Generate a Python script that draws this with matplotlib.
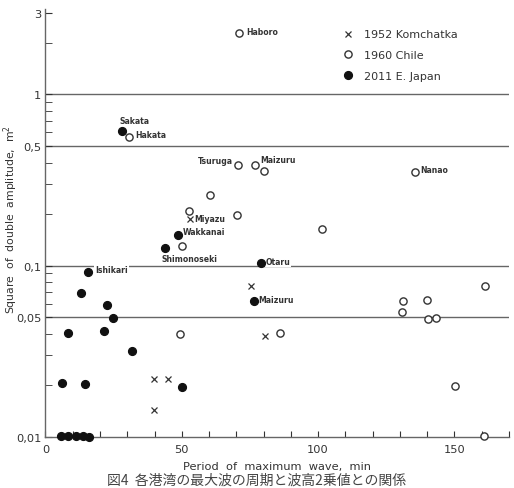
import matplotlib
matplotlib.use("Agg")
import matplotlib.pyplot as plt
from matplotlib.ticker import FixedLocator, NullFormatter

plt.rcParams['font.family'] = ['DejaVu Sans', 'Noto Sans CJK JP']

# 1952 Kamchatka (x markers)
kam_x = [52.9, 75.5, 80.4, 39.9, 45.0, 39.9]
kam_y = [0.186, 0.076, 0.0385, 0.0217, 0.0217, 0.0144]

# 1960 Chile (open circles)
chile_x = [71.0, 30.7, 70.6, 76.7, 80.0, 135.6, 60.5, 101.4, 52.7, 70.4, 49.9,
           85.9, 131.1, 130.7, 140.1, 140.5, 143.4, 161.1, 150.3, 160.7, 49.4]
chile_y = [2.29, 0.566, 0.385, 0.385, 0.357, 0.35, 0.257, 0.164, 0.208, 0.198, 0.131,
           0.0404, 0.062, 0.0538, 0.0633, 0.0488, 0.0497, 0.0764, 0.0198, 0.0101, 0.0397]

# 2011 E. Japan (filled circles)
japan_x = [28.0, 48.6, 43.7, 15.7, 78.9, 76.4, 12.9, 8.2, 6.0, 14.5, 22.4, 24.7,
           21.5, 31.9, 49.9, 5.6, 8.1, 11.1, 13.6, 15.9]
japan_y = [0.608, 0.151, 0.127, 0.0923, 0.103, 0.062, 0.0692, 0.0404, 0.0205, 0.0203,
           0.0589, 0.0492, 0.0417, 0.0317, 0.0196, 0.0101, 0.0101, 0.0101, 0.0101, 0.0100]

# port names: (label, x, y, dx px, dy px, ha, va)
ports = [
    ("Haboro", 71.0, 2.29, 7, 1, "left", "center"),
    ("Sakata", 28.0, 0.608, -2, 6, "left", "bottom"),
    ("Hakata", 30.7, 0.566, 6, 2, "left", "center"),
    ("Tsuruga", 70.6, 0.385, -5, 5, "right", "center"),
    ("Maizuru", 76.7, 0.385, 6, 6, "left", "center"),
    ("Nanao", 135.6, 0.35, 5, 3, "left", "center"),
    ("Miyazu", 52.9, 0.186, 5, 1, "left", "center"),
    ("Wakkanai", 48.6, 0.151, 5, 3, "left", "center"),
    ("Shimonoseki", 43.7, 0.127, -3, -6, "left", "top"),
    ("Ishikari", 15.7, 0.0923, 7, 2, "left", "center"),
    ("Otaru", 78.9, 0.103, 5, 2, "left", "center"),
    ("Maizuru", 76.4, 0.062, 5, 2, "left", "center"),
]

ref_lines = [1, 0.5, 0.1, 0.05]
y_major = [0.01, 0.05, 0.1, 0.5, 1, 3]
y_major_labels = ["0,01", "0,05", "0,1", "0,5", "1", "3"]
y_minor = [0.02, 0.03, 0.04, 0.06, 0.07, 0.08, 0.09,
           0.2, 0.3, 0.4, 0.6, 0.7, 0.8, 0.9, 2]
x_ticks = list(range(0, 171, 10))
x_labels = ["0", "50", "100", "150"]

ink = "#333333"
gray = "#666666"

fig = plt.figure(figsize=(5.14, 4.89), dpi=100)
ax = fig.add_axes([0.0885, 0.105, 0.9015, 0.875])

for v in ref_lines:
    ax.axhline(v, color=gray, lw=1.0, zorder=1)

ax.plot(kam_x, kam_y, ls="none", marker="x", ms=5, mew=0.9, color=ink,
        label="1952 Komchatka", clip_on=False, zorder=3)
ax.plot(chile_x, chile_y, ls="none", marker="o", ms=5.2, mew=1.0, mfc="white",
        mec=ink, label="1960 Chile", clip_on=False, zorder=3)
ax.plot(japan_x, japan_y, ls="none", marker="o", ms=5.6, color="#111111",
        label="2011 E. Japan", clip_on=False, zorder=3)

for name, x, y, dx, dy, ha, va in ports:
    ax.annotate(name, (x, y), xytext=(dx, dy), textcoords="offset pixels",
                ha=ha, va=va, fontsize=5.6, fontweight="bold", color=ink,
                bbox=dict(fc="white", ec="none", pad=0.6), zorder=2)

ax.set_yscale("log")
ax.set_xlim(0, 170)
ax.set_ylim(0.01, 3.17)

ax.yaxis.set_major_locator(FixedLocator(y_major))
ax.set_yticklabels(y_major_labels)
ax.yaxis.set_minor_locator(FixedLocator(y_minor))
ax.yaxis.set_minor_formatter(NullFormatter())
ax.set_xticks(x_ticks)
ax.set_xticklabels([str(t) if t in (0, 50, 100, 150) else "" for t in x_ticks])

ax.tick_params(axis="both", which="both", direction="in", color=ink,
               labelsize=8.2, labelcolor=ink)
ax.tick_params(axis="y", which="major", length=5, pad=3)
ax.tick_params(axis="y", which="minor", length=5)
ax.tick_params(axis="x", which="major", length=4, pad=5)

for s in ["top", "right"]:
    ax.spines[s].set_visible(False)
for s in ["left", "bottom"]:
    ax.spines[s].set_color(gray)
    ax.spines[s].set_linewidth(1.0)

ax.set_xlabel("Period  of  maximum  wave,  min", fontsize=8.2, color=ink)
ax.xaxis.set_label_coords(0.5, -0.056)
ax.set_ylabel("Square  of  double  amplitude,  m$^2$", fontsize=7.8, color=ink)
ax.yaxis.set_label_coords(-0.056, 0.51)

leg = ax.legend(loc="upper left", bbox_to_anchor=(0.62, 0.975), frameon=False,
                fontsize=8, handletextpad=0.9, labelspacing=0.95, handlelength=1.0)
for t in leg.get_texts():
    t.set_color(ink)

fig.text(0.5, 0.017, "図4  各港湾の最大波の周期と波高2乗値との関係",
         family=["Noto Sans CJK JP", "DejaVu Sans"], fontsize=10,
         color="#444444", ha="center", va="center")

fig.savefig("out.png", dpi=100)
